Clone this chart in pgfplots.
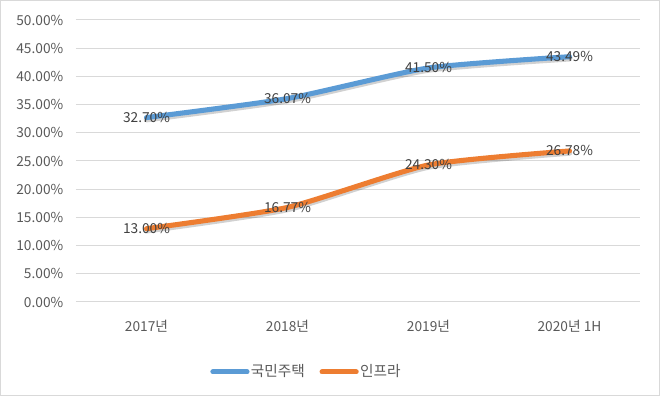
\documentclass[border=0pt]{standalone}
\usepackage{pgfplots}
\pgfplotsset{compat=1.18}
\usepackage{fontspec}
\setmainfont{Noto Sans CJK KR}
\definecolor{cblue}{HTML}{5B9BD5}
\definecolor{corange}{HTML}{ED7D31}
\definecolor{ctext}{HTML}{595959}
\definecolor{clabel}{HTML}{404040}
\definecolor{cgrid}{HTML}{D9D9D9}
\begin{document}
\begin{tikzpicture}
\begin{axis}[
  scale only axis,
  width=423pt, height=211.5pt,
  xmin=-0.5, xmax=3.5,
  ymin=0, ymax=50,
  ytick={0,5,...,50},
  xtick={0,1,2,3},
  xticklabels={2017년,2018년,2019년,2020년 1H},
  axis line style={draw=none},
  tick style={draw=none},
  ymajorgrids,
  grid style={cgrid, line width=0.75pt},
  /pgf/number format/assume math mode=true,
  yticklabel={\pgfmathprintnumber[fixed,fixed zerofill,precision=2]{\tick}\%},
  yticklabel style={font=\fontsize{10.3}{12}\selectfont, text=ctext, xshift=-6pt},
  xticklabel style={font=\fontsize{10.3}{12}\selectfont, text=ctext, yshift=-10pt},
  clip=false,
  legend columns=2,
  legend style={draw=none, fill=none, at={(rel axis cs:0.408,-0.248)}, anchor=center,
    font=\fontsize{11}{13}\selectfont, text=ctext,
    /tikz/every odd column/.append style={column sep=0pt},
    /tikz/every even column/.append style={column sep=10pt},
    nodes={inner xsep=1pt}},
  legend image code/.code={\draw[#1, line cap=round] (0cm,0cm) -- (0.9cm,0cm);},
  every node near coord/.append style={anchor=center, text=clabel, font=\fontsize{10.3}{12}\selectfont},
]
\addplot[black, opacity=0.18, line width=4.2pt, smooth, tension=0.35, line cap=round, forget plot, yshift=-1.5pt] coordinates {(0,32.70) (1,36.07) (2,41.50) (3,43.49)};
\addplot[black, opacity=0.18, line width=4.2pt, smooth, tension=0.35, line cap=round, forget plot, yshift=-1.5pt] coordinates {(0,13.00) (1,16.77) (2,24.30) (3,26.78)};
\addplot[cblue, line width=3.8pt, smooth, tension=0.35, line cap=round,
  nodes near coords={\pgfmathprintnumber[fixed,fixed zerofill,precision=2]{\pgfplotspointmeta}\%}, point meta=y] coordinates {(0,32.70) (1,36.07) (2,41.50) (3,43.49)};
\addlegendentry{국민주택}
\addplot[corange, line width=3.8pt, smooth, tension=0.35, line cap=round,
  nodes near coords={\pgfmathprintnumber[fixed,fixed zerofill,precision=2]{\pgfplotspointmeta}\%}, point meta=y] coordinates {(0,13.00) (1,16.77) (2,24.30) (3,26.78)};
\addlegendentry{인프라}
\draw[cgrid, line width=0.75pt] (rel axis cs:{-75.5/564},{-93.5/282}) rectangle (rel axis cs:{583.5/564},{301.5/282});
\end{axis}
\end{tikzpicture}
\end{document}
